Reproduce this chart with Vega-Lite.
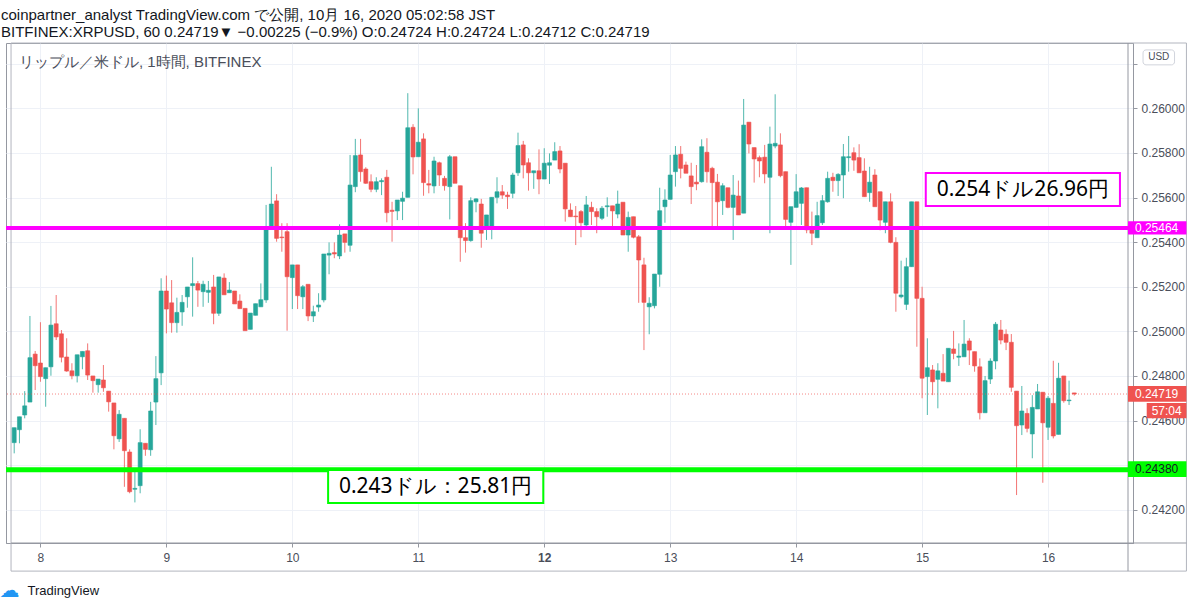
{
  "$schema": "https://vega.github.io/schema/vega-lite/v6.json",
  "width": 1127,
  "height": 500,
  "autosize": "none",
  "padding": {"left": 6, "top": 43, "right": 67, "bottom": 64},
  "background": "white",
  "config": {
    "view": {"stroke": "#9598a1", "strokeWidth": 1},
    "font": "Liberation Sans"
  },
  "title": {
    "text": "coinpartner_analyst TradingView.com で公開, 10月 16, 2020 05:02:58 JST",
    "subtitle": "BITFINEX:XRPUSD, 60 0.24719▼ −0.00225 (−0.9%) O:0.24724 H:0.24724 L:0.24712 C:0.24719",
    "anchor": "start",
    "dx": 2,
    "offset": 3,
    "font": "Liberation Sans",
    "fontSize": 15,
    "fontWeight": "normal",
    "color": "#131722",
    "subtitleFont": "Liberation Sans",
    "subtitleFontSize": 15,
    "subtitleColor": "#131722",
    "subtitlePadding": 2
  },
  "datasets": {
    "candles": [
    {"t":"2020-10-07T19:00Z","o":0.24501,"h":0.24568,"l":0.24453,"c":0.24568},
    {"t":"2020-10-07T20:00Z","o":0.24559,"h":0.24617,"l":0.24498,"c":0.24617},
    {"t":"2020-10-07T21:00Z","o":0.24625,"h":0.24732,"l":0.24610,"c":0.24666},
    {"t":"2020-10-07T22:00Z","o":0.24683,"h":0.25069,"l":0.24683,"c":0.24882},
    {"t":"2020-10-07T23:00Z","o":0.24898,"h":0.24912,"l":0.24737,"c":0.24846},
    {"t":"2020-10-08T00:00Z","o":0.24858,"h":0.25041,"l":0.24774,"c":0.24797},
    {"t":"2020-10-08T01:00Z","o":0.24788,"h":0.24837,"l":0.24662,"c":0.24837},
    {"t":"2020-10-08T02:00Z","o":0.24841,"h":0.25114,"l":0.24801,"c":0.25028},
    {"t":"2020-10-08T03:00Z","o":0.25034,"h":0.25163,"l":0.24961,"c":0.24975},
    {"t":"2020-10-08T04:00Z","o":0.24989,"h":0.25006,"l":0.24861,"c":0.24884},
    {"t":"2020-10-08T05:00Z","o":0.24885,"h":0.24969,"l":0.24819,"c":0.24822},
    {"t":"2020-10-08T06:00Z","o":0.24823,"h":0.24857,"l":0.24785,"c":0.24801},
    {"t":"2020-10-08T07:00Z","o":0.24801,"h":0.24895,"l":0.24771,"c":0.24895},
    {"t":"2020-10-08T08:00Z","o":0.24886,"h":0.24910,"l":0.24830,"c":0.24910},
    {"t":"2020-10-08T09:00Z","o":0.24913,"h":0.24946,"l":0.24782,"c":0.24804},
    {"t":"2020-10-08T10:00Z","o":0.24800,"h":0.24800,"l":0.24725,"c":0.24779},
    {"t":"2020-10-08T11:00Z","o":0.24761,"h":0.24786,"l":0.24725,"c":0.24786},
    {"t":"2020-10-08T12:00Z","o":0.24782,"h":0.24849,"l":0.24729,"c":0.24747},
    {"t":"2020-10-08T13:00Z","o":0.24732,"h":0.24732,"l":0.24640,"c":0.24684},
    {"t":"2020-10-08T14:00Z","o":0.24679,"h":0.24679,"l":0.24471,"c":0.24532},
    {"t":"2020-10-08T15:00Z","o":0.24518,"h":0.24647,"l":0.24504,"c":0.24628},
    {"t":"2020-10-08T16:00Z","o":0.24610,"h":0.24610,"l":0.24303,"c":0.24465},
    {"t":"2020-10-08T17:00Z","o":0.24459,"h":0.24471,"l":0.24274,"c":0.24281},
    {"t":"2020-10-08T18:00Z","o":0.24292,"h":0.24378,"l":0.24233,"c":0.24296},
    {"t":"2020-10-08T19:00Z","o":0.24308,"h":0.24561,"l":0.24274,"c":0.24501},
    {"t":"2020-10-08T20:00Z","o":0.24498,"h":0.24498,"l":0.24442,"c":0.24471},
    {"t":"2020-10-08T21:00Z","o":0.24469,"h":0.24684,"l":0.24442,"c":0.24643},
    {"t":"2020-10-08T22:00Z","o":0.24683,"h":0.24889,"l":0.24580,"c":0.24788},
    {"t":"2020-10-08T23:00Z","o":0.24814,"h":0.25238,"l":0.24759,"c":0.25181},
    {"t":"2020-10-09T00:00Z","o":0.25181,"h":0.25250,"l":0.24991,"c":0.25100},
    {"t":"2020-10-09T01:00Z","o":0.25128,"h":0.25230,"l":0.24994,"c":0.25039},
    {"t":"2020-10-09T02:00Z","o":0.25039,"h":0.25151,"l":0.24994,"c":0.25085},
    {"t":"2020-10-09T03:00Z","o":0.25087,"h":0.25163,"l":0.25025,"c":0.25130},
    {"t":"2020-10-09T04:00Z","o":0.25155,"h":0.25199,"l":0.25106,"c":0.25199},
    {"t":"2020-10-09T05:00Z","o":0.25205,"h":0.25332,"l":0.25066,"c":0.25214},
    {"t":"2020-10-09T06:00Z","o":0.25214,"h":0.25226,"l":0.25110,"c":0.25185},
    {"t":"2020-10-09T07:00Z","o":0.25178,"h":0.25227,"l":0.25110,"c":0.25211},
    {"t":"2020-10-09T08:00Z","o":0.25175,"h":0.25226,"l":0.25128,"c":0.25184},
    {"t":"2020-10-09T09:00Z","o":0.25199,"h":0.25253,"l":0.25032,"c":0.25081},
    {"t":"2020-10-09T10:00Z","o":0.25081,"h":0.25244,"l":0.25069,"c":0.25244},
    {"t":"2020-10-09T11:00Z","o":0.25239,"h":0.25260,"l":0.25164,"c":0.25164},
    {"t":"2020-10-09T12:00Z","o":0.25173,"h":0.25221,"l":0.25173,"c":0.25185},
    {"t":"2020-10-09T13:00Z","o":0.25181,"h":0.25181,"l":0.25123,"c":0.25123},
    {"t":"2020-10-09T14:00Z","o":0.25136,"h":0.25166,"l":0.25102,"c":0.25102},
    {"t":"2020-10-09T15:00Z","o":0.25103,"h":0.25103,"l":0.25003,"c":0.25003},
    {"t":"2020-10-09T16:00Z","o":0.25009,"h":0.25082,"l":0.25009,"c":0.25082},
    {"t":"2020-10-09T17:00Z","o":0.25072,"h":0.25124,"l":0.25072,"c":0.25124},
    {"t":"2020-10-09T18:00Z","o":0.25110,"h":0.25215,"l":0.25110,"c":0.25142},
    {"t":"2020-10-09T19:00Z","o":0.25141,"h":0.25567,"l":0.25128,"c":0.25455},
    {"t":"2020-10-09T20:00Z","o":0.25458,"h":0.25738,"l":0.25455,"c":0.25571},
    {"t":"2020-10-09T21:00Z","o":0.25585,"h":0.25615,"l":0.25402,"c":0.25417},
    {"t":"2020-10-09T22:00Z","o":0.25423,"h":0.25485,"l":0.25357,"c":0.25420},
    {"t":"2020-10-09T23:00Z","o":0.25447,"h":0.25485,"l":0.25003,"c":0.25245},
    {"t":"2020-10-10T00:00Z","o":0.25241,"h":0.25298,"l":0.25100,"c":0.25298},
    {"t":"2020-10-10T01:00Z","o":0.25298,"h":0.25298,"l":0.25100,"c":0.25160},
    {"t":"2020-10-10T02:00Z","o":0.25155,"h":0.25208,"l":0.25100,"c":0.25200},
    {"t":"2020-10-10T03:00Z","o":0.25211,"h":0.25211,"l":0.25046,"c":0.25069},
    {"t":"2020-10-10T04:00Z","o":0.25069,"h":0.25115,"l":0.25042,"c":0.25088},
    {"t":"2020-10-10T05:00Z","o":0.25109,"h":0.25171,"l":0.25088,"c":0.25118},
    {"t":"2020-10-10T06:00Z","o":0.25141,"h":0.25347,"l":0.25130,"c":0.25347},
    {"t":"2020-10-10T07:00Z","o":0.25342,"h":0.25399,"l":0.25256,"c":0.25350},
    {"t":"2020-10-10T08:00Z","o":0.25353,"h":0.25399,"l":0.25328,"c":0.25347},
    {"t":"2020-10-10T09:00Z","o":0.25338,"h":0.25480,"l":0.25324,"c":0.25432},
    {"t":"2020-10-10T10:00Z","o":0.25437,"h":0.25437,"l":0.25353,"c":0.25399},
    {"t":"2020-10-10T11:00Z","o":0.25386,"h":0.25791,"l":0.25357,"c":0.25656},
    {"t":"2020-10-10T12:00Z","o":0.25649,"h":0.25863,"l":0.25624,"c":0.25788},
    {"t":"2020-10-10T13:00Z","o":0.25791,"h":0.25863,"l":0.25671,"c":0.25716},
    {"t":"2020-10-10T14:00Z","o":0.25728,"h":0.25736,"l":0.25661,"c":0.25664},
    {"t":"2020-10-10T15:00Z","o":0.25671,"h":0.25704,"l":0.25624,"c":0.25637},
    {"t":"2020-10-10T16:00Z","o":0.25637,"h":0.25691,"l":0.25624,"c":0.25671},
    {"t":"2020-10-10T17:00Z","o":0.25671,"h":0.25686,"l":0.25611,"c":0.25676},
    {"t":"2020-10-10T18:00Z","o":0.25691,"h":0.25724,"l":0.25489,"c":0.25532},
    {"t":"2020-10-10T19:00Z","o":0.25543,"h":0.25581,"l":0.25402,"c":0.25538},
    {"t":"2020-10-10T20:00Z","o":0.25540,"h":0.25589,"l":0.25499,"c":0.25589},
    {"t":"2020-10-10T21:00Z","o":0.25583,"h":0.25626,"l":0.25499,"c":0.25597},
    {"t":"2020-10-10T22:00Z","o":0.25601,"h":0.26068,"l":0.25601,"c":0.25913},
    {"t":"2020-10-10T23:00Z","o":0.25915,"h":0.25929,"l":0.25704,"c":0.25782},
    {"t":"2020-10-11T00:00Z","o":0.25783,"h":0.26000,"l":0.25783,"c":0.25848},
    {"t":"2020-10-11T01:00Z","o":0.25863,"h":0.25888,"l":0.25608,"c":0.25667},
    {"t":"2020-10-11T02:00Z","o":0.25662,"h":0.25724,"l":0.25619,"c":0.25656},
    {"t":"2020-10-11T03:00Z","o":0.25652,"h":0.25783,"l":0.25619,"c":0.25764},
    {"t":"2020-10-11T04:00Z","o":0.25756,"h":0.25761,"l":0.25652,"c":0.25701},
    {"t":"2020-10-11T05:00Z","o":0.25686,"h":0.25697,"l":0.25631,"c":0.25653},
    {"t":"2020-10-11T06:00Z","o":0.25649,"h":0.25791,"l":0.25502,"c":0.25783},
    {"t":"2020-10-11T07:00Z","o":0.25783,"h":0.25783,"l":0.25664,"c":0.25664},
    {"t":"2020-10-11T08:00Z","o":0.25653,"h":0.25653,"l":0.25312,"c":0.25420},
    {"t":"2020-10-11T09:00Z","o":0.25420,"h":0.25485,"l":0.25353,"c":0.25407},
    {"t":"2020-10-11T10:00Z","o":0.25407,"h":0.25601,"l":0.25402,"c":0.25586},
    {"t":"2020-10-11T11:00Z","o":0.25581,"h":0.25597,"l":0.25534,"c":0.25594},
    {"t":"2020-10-11T12:00Z","o":0.25571,"h":0.25594,"l":0.25375,"c":0.25440},
    {"t":"2020-10-11T13:00Z","o":0.25469,"h":0.25522,"l":0.25410,"c":0.25522},
    {"t":"2020-10-11T14:00Z","o":0.25469,"h":0.25601,"l":0.25413,"c":0.25601},
    {"t":"2020-10-11T15:00Z","o":0.25601,"h":0.25691,"l":0.25574,"c":0.25626},
    {"t":"2020-10-11T16:00Z","o":0.25626,"h":0.25656,"l":0.25594,"c":0.25611},
    {"t":"2020-10-11T17:00Z","o":0.25611,"h":0.25626,"l":0.25549,"c":0.25604},
    {"t":"2020-10-11T18:00Z","o":0.25619,"h":0.25711,"l":0.25597,"c":0.25701},
    {"t":"2020-10-11T19:00Z","o":0.25711,"h":0.25891,"l":0.25697,"c":0.25833},
    {"t":"2020-10-11T20:00Z","o":0.25836,"h":0.25854,"l":0.25686,"c":0.25746},
    {"t":"2020-10-11T21:00Z","o":0.25756,"h":0.25776,"l":0.25631,"c":0.25711},
    {"t":"2020-10-11T22:00Z","o":0.25711,"h":0.25720,"l":0.25639,"c":0.25720},
    {"t":"2020-10-11T23:00Z","o":0.25720,"h":0.25816,"l":0.25615,"c":0.25683},
    {"t":"2020-10-12T00:00Z","o":0.25683,"h":0.25821,"l":0.25683,"c":0.25754},
    {"t":"2020-10-12T01:00Z","o":0.25745,"h":0.25798,"l":0.25661,"c":0.25756},
    {"t":"2020-10-12T02:00Z","o":0.25768,"h":0.25848,"l":0.25768,"c":0.25806},
    {"t":"2020-10-12T03:00Z","o":0.25809,"h":0.25831,"l":0.25709,"c":0.25728},
    {"t":"2020-10-12T04:00Z","o":0.25754,"h":0.25754,"l":0.25492,"c":0.25549},
    {"t":"2020-10-12T05:00Z","o":0.25544,"h":0.25574,"l":0.25514,"c":0.25514},
    {"t":"2020-10-12T06:00Z","o":0.25517,"h":0.25562,"l":0.25387,"c":0.25514},
    {"t":"2020-10-12T07:00Z","o":0.25537,"h":0.25544,"l":0.25422,"c":0.25487},
    {"t":"2020-10-12T08:00Z","o":0.25477,"h":0.25607,"l":0.25472,"c":0.25567},
    {"t":"2020-10-12T09:00Z","o":0.25556,"h":0.25581,"l":0.25477,"c":0.25537},
    {"t":"2020-10-12T10:00Z","o":0.25537,"h":0.25552,"l":0.25440,"c":0.25514},
    {"t":"2020-10-12T11:00Z","o":0.25507,"h":0.25562,"l":0.25499,"c":0.25552},
    {"t":"2020-10-12T12:00Z","o":0.25559,"h":0.25601,"l":0.25514,"c":0.25563},
    {"t":"2020-10-12T13:00Z","o":0.25563,"h":0.25563,"l":0.25472,"c":0.25540},
    {"t":"2020-10-12T14:00Z","o":0.25526,"h":0.25631,"l":0.25507,"c":0.25571},
    {"t":"2020-10-12T15:00Z","o":0.25579,"h":0.25579,"l":0.25432,"c":0.25432},
    {"t":"2020-10-12T16:00Z","o":0.25432,"h":0.25537,"l":0.25357,"c":0.25511},
    {"t":"2020-10-12T17:00Z","o":0.25514,"h":0.25514,"l":0.25417,"c":0.25422},
    {"t":"2020-10-12T18:00Z","o":0.25424,"h":0.25432,"l":0.25128,"c":0.25320},
    {"t":"2020-10-12T19:00Z","o":0.25298,"h":0.25330,"l":0.24916,"c":0.25130},
    {"t":"2020-10-12T20:00Z","o":0.25110,"h":0.25153,"l":0.24987,"c":0.25126},
    {"t":"2020-10-12T21:00Z","o":0.25115,"h":0.25257,"l":0.25103,"c":0.25257},
    {"t":"2020-10-12T22:00Z","o":0.25256,"h":0.25644,"l":0.25200,"c":0.25541},
    {"t":"2020-10-12T23:00Z","o":0.25559,"h":0.25637,"l":0.25487,"c":0.25589},
    {"t":"2020-10-13T00:00Z","o":0.25592,"h":0.25791,"l":0.25592,"c":0.25701},
    {"t":"2020-10-13T01:00Z","o":0.25716,"h":0.25831,"l":0.25649,"c":0.25791},
    {"t":"2020-10-13T02:00Z","o":0.25794,"h":0.25831,"l":0.25686,"c":0.25731},
    {"t":"2020-10-13T03:00Z","o":0.25746,"h":0.25761,"l":0.25709,"c":0.25709},
    {"t":"2020-10-13T04:00Z","o":0.25697,"h":0.25756,"l":0.25571,"c":0.25649},
    {"t":"2020-10-13T05:00Z","o":0.25669,"h":0.25746,"l":0.25633,"c":0.25661},
    {"t":"2020-10-13T06:00Z","o":0.25671,"h":0.25861,"l":0.25667,"c":0.25828},
    {"t":"2020-10-13T07:00Z","o":0.25803,"h":0.25866,"l":0.25667,"c":0.25716},
    {"t":"2020-10-13T08:00Z","o":0.25731,"h":0.25738,"l":0.25469,"c":0.25667},
    {"t":"2020-10-13T09:00Z","o":0.25669,"h":0.25706,"l":0.25464,"c":0.25581},
    {"t":"2020-10-13T10:00Z","o":0.25586,"h":0.25664,"l":0.25522,"c":0.25653},
    {"t":"2020-10-13T11:00Z","o":0.25644,"h":0.25644,"l":0.25552,"c":0.25556},
    {"t":"2020-10-13T12:00Z","o":0.25556,"h":0.25701,"l":0.25410,"c":0.25611},
    {"t":"2020-10-13T13:00Z","o":0.25607,"h":0.25676,"l":0.25522,"c":0.25522},
    {"t":"2020-10-13T14:00Z","o":0.25530,"h":0.26042,"l":0.25530,"c":0.25925},
    {"t":"2020-10-13T15:00Z","o":0.25938,"h":0.25938,"l":0.25798,"c":0.25840},
    {"t":"2020-10-13T16:00Z","o":0.25824,"h":0.25824,"l":0.25667,"c":0.25773},
    {"t":"2020-10-13T17:00Z","o":0.25779,"h":0.25788,"l":0.25691,"c":0.25764},
    {"t":"2020-10-13T18:00Z","o":0.25781,"h":0.25836,"l":0.25664,"c":0.25706},
    {"t":"2020-10-13T19:00Z","o":0.25691,"h":0.25918,"l":0.25440,"c":0.25840},
    {"t":"2020-10-13T20:00Z","o":0.25831,"h":0.26063,"l":0.25821,"c":0.25843},
    {"t":"2020-10-13T21:00Z","o":0.25836,"h":0.25888,"l":0.25691,"c":0.25698},
    {"t":"2020-10-13T22:00Z","o":0.25716,"h":0.25716,"l":0.25469,"c":0.25502},
    {"t":"2020-10-13T23:00Z","o":0.25489,"h":0.25559,"l":0.25298,"c":0.25559},
    {"t":"2020-10-14T00:00Z","o":0.25556,"h":0.25705,"l":0.25556,"c":0.25626},
    {"t":"2020-10-14T01:00Z","o":0.25574,"h":0.25647,"l":0.25477,"c":0.25643},
    {"t":"2020-10-14T02:00Z","o":0.25644,"h":0.25644,"l":0.25440,"c":0.25455},
    {"t":"2020-10-14T03:00Z","o":0.25469,"h":0.25537,"l":0.25387,"c":0.25440},
    {"t":"2020-10-14T04:00Z","o":0.25420,"h":0.25581,"l":0.25420,"c":0.25519},
    {"t":"2020-10-14T05:00Z","o":0.25487,"h":0.25611,"l":0.25477,"c":0.25586},
    {"t":"2020-10-14T06:00Z","o":0.25581,"h":0.25716,"l":0.25577,"c":0.25686},
    {"t":"2020-10-14T07:00Z","o":0.25691,"h":0.25711,"l":0.25626,"c":0.25676},
    {"t":"2020-10-14T08:00Z","o":0.25676,"h":0.25709,"l":0.25607,"c":0.25704},
    {"t":"2020-10-14T09:00Z","o":0.25701,"h":0.25840,"l":0.25597,"c":0.25783},
    {"t":"2020-10-14T10:00Z","o":0.25779,"h":0.25876,"l":0.25716,"c":0.25783},
    {"t":"2020-10-14T11:00Z","o":0.25801,"h":0.25825,"l":0.25720,"c":0.25768},
    {"t":"2020-10-14T12:00Z","o":0.25779,"h":0.25839,"l":0.25711,"c":0.25711},
    {"t":"2020-10-14T13:00Z","o":0.25719,"h":0.25776,"l":0.25604,"c":0.25604},
    {"t":"2020-10-14T14:00Z","o":0.25622,"h":0.25738,"l":0.25581,"c":0.25669},
    {"t":"2020-10-14T15:00Z","o":0.25701,"h":0.25727,"l":0.25559,"c":0.25559},
    {"t":"2020-10-14T16:00Z","o":0.25626,"h":0.25626,"l":0.25453,"c":0.25499},
    {"t":"2020-10-14T17:00Z","o":0.25489,"h":0.25581,"l":0.25440,"c":0.25581},
    {"t":"2020-10-14T18:00Z","o":0.25581,"h":0.25619,"l":0.25395,"c":0.25399},
    {"t":"2020-10-14T19:00Z","o":0.25399,"h":0.25422,"l":0.25088,"c":0.25171},
    {"t":"2020-10-14T20:00Z","o":0.25155,"h":0.25317,"l":0.25148,"c":0.25163},
    {"t":"2020-10-14T21:00Z","o":0.25121,"h":0.25330,"l":0.25096,"c":0.25290},
    {"t":"2020-10-14T22:00Z","o":0.25290,"h":0.25581,"l":0.25290,"c":0.25581},
    {"t":"2020-10-14T23:00Z","o":0.25581,"h":0.25581,"l":0.24931,"c":0.25148},
    {"t":"2020-10-15T00:00Z","o":0.25148,"h":0.25200,"l":0.24700,"c":0.24790},
    {"t":"2020-10-15T01:00Z","o":0.24797,"h":0.24969,"l":0.24625,"c":0.24837},
    {"t":"2020-10-15T02:00Z","o":0.24827,"h":0.24849,"l":0.24714,"c":0.24774},
    {"t":"2020-10-15T03:00Z","o":0.24785,"h":0.24857,"l":0.24655,"c":0.24823},
    {"t":"2020-10-15T04:00Z","o":0.24812,"h":0.24898,"l":0.24777,"c":0.24777},
    {"t":"2020-10-15T05:00Z","o":0.24774,"h":0.24924,"l":0.24774,"c":0.24924},
    {"t":"2020-10-15T06:00Z","o":0.24921,"h":0.25002,"l":0.24875,"c":0.24901},
    {"t":"2020-10-15T07:00Z","o":0.24884,"h":0.24946,"l":0.24845,"c":0.24889},
    {"t":"2020-10-15T08:00Z","o":0.24886,"h":0.25051,"l":0.24886,"c":0.24943},
    {"t":"2020-10-15T09:00Z","o":0.24957,"h":0.24969,"l":0.24849,"c":0.24916},
    {"t":"2020-10-15T10:00Z","o":0.24909,"h":0.24909,"l":0.24819,"c":0.24845},
    {"t":"2020-10-15T11:00Z","o":0.24841,"h":0.24879,"l":0.24605,"c":0.24635},
    {"t":"2020-10-15T12:00Z","o":0.24635,"h":0.24800,"l":0.24635,"c":0.24779},
    {"t":"2020-10-15T13:00Z","o":0.24786,"h":0.24879,"l":0.24764,"c":0.24867},
    {"t":"2020-10-15T14:00Z","o":0.24867,"h":0.25042,"l":0.24830,"c":0.25032},
    {"t":"2020-10-15T15:00Z","o":0.25006,"h":0.25051,"l":0.24942,"c":0.24961},
    {"t":"2020-10-15T16:00Z","o":0.24987,"h":0.25009,"l":0.24916,"c":0.24951},
    {"t":"2020-10-15T17:00Z","o":0.24951,"h":0.24988,"l":0.24729,"c":0.24749},
    {"t":"2020-10-15T18:00Z","o":0.24732,"h":0.24732,"l":0.24266,"c":0.24577},
    {"t":"2020-10-15T19:00Z","o":0.24580,"h":0.24755,"l":0.24535,"c":0.24643},
    {"t":"2020-10-15T20:00Z","o":0.24632,"h":0.24655,"l":0.24547,"c":0.24565},
    {"t":"2020-10-15T21:00Z","o":0.24540,"h":0.24714,"l":0.24431,"c":0.24659},
    {"t":"2020-10-15T22:00Z","o":0.24652,"h":0.24764,"l":0.24652,"c":0.24729},
    {"t":"2020-10-15T23:00Z","o":0.24727,"h":0.24727,"l":0.24321,"c":0.24590},
    {"t":"2020-10-16T00:00Z","o":0.24570,"h":0.24710,"l":0.24513,"c":0.24700},
    {"t":"2020-10-16T01:00Z","o":0.24677,"h":0.24868,"l":0.24520,"c":0.24531},
    {"t":"2020-10-16T02:00Z","o":0.24538,"h":0.24859,"l":0.24538,"c":0.24790},
    {"t":"2020-10-16T03:00Z","o":0.24800,"h":0.24800,"l":0.24680,"c":0.24689},
    {"t":"2020-10-16T04:00Z","o":0.24689,"h":0.24779,"l":0.24670,"c":0.24692},
    {"t":"2020-10-16T05:00Z","o":0.24724,"h":0.24724,"l":0.24712,"c":0.24719}
    ],
    "one": [{}]
  },
  "data": {"name": "one"},
  "layer": [
    {
      "data": {"name": "candles"},
      "mark": {"type": "rule", "strokeWidth": 1, "opacity": 0.8},
      "encoding": {
        "x": {
          "field": "t", "type": "temporal",
          "scale": {"type": "utc", "domain": [{"year": 2020, "month": 10, "date": 7, "hours": 18, "minutes": 23, "seconds": 30, "utc": true}, {"year": 2020, "month": 10, "date": 16, "hours": 15, "minutes": 14, "utc": true}]},
          "axis": {
            "values": [
              {"year": 2020, "month": 10, "date": 8, "utc": true},
              {"year": 2020, "month": 10, "date": 9, "utc": true},
              {"year": 2020, "month": 10, "date": 10, "utc": true},
              {"year": 2020, "month": 10, "date": 11, "utc": true},
              {"year": 2020, "month": 10, "date": 12, "utc": true},
              {"year": 2020, "month": 10, "date": 13, "utc": true},
              {"year": 2020, "month": 10, "date": 14, "utc": true},
              {"year": 2020, "month": 10, "date": 15, "utc": true},
              {"year": 2020, "month": 10, "date": 16, "utc": true}
            ],
            "labelExpr": "utcFormat(datum.value, '%-d')",
            "grid": true,
            "gridColor": "#eef1f7",
            "domainColor": "#9598a1",
            "tickColor": "#9598a1",
            "tickSize": 4,
            "labelColor": "#4a4e5a",
            "labelFontSize": 12,
            "labelFont": "Liberation Sans",
            "labelPadding": 5,
            "labelFontWeight": {"condition": {"test": "utcdate(datum.value) === 12", "value": "bold"}, "value": "normal"},
            "title": "TradingView",
            "titleAnchor": "start",
            "titleAlign": "left",
            "titleBaseline": "middle",
            "titleX": 21,
            "titleY": 47,
            "titleFont": "Liberation Sans",
            "titleFontSize": 13,
            "titleFontWeight": "normal",
            "titleColor": "#131722"
          }
        },
        "y": {
          "field": "l", "type": "quantitative",
          "scale": {"domain": [0.24051, 0.26293], "zero": false, "nice": false},
          "axis": {
            "orient": "right",
            "values": [0.242, 0.244, 0.246, 0.248, 0.25, 0.252, 0.254, 0.256, 0.258, 0.26, 0.262],
            "labelExpr": "datum.value == 0.244 || datum.value == 0.262 ? '' : format(datum.value, '.5f')",
            "grid": true,
            "gridColor": "#eef1f7",
            "domainColor": "#9598a1",
            "tickColor": "#9598a1",
            "tickSize": 4,
            "labelColor": "#4a4e5a",
            "labelFontSize": 12,
            "labelFont": "Liberation Sans",
            "labelPadding": 4,
            "title": "☁",
            "titleAngle": 0,
            "titleX": -1124,
            "titleY": 547,
            "titleAlign": "center",
            "titleBaseline": "middle",
            "titleFontSize": 20,
            "titleFont": "DejaVu Sans",
            "titleFontWeight": "normal",
            "titleColor": "#2196f3"
          }
        },
        "y2": {"field": "h"},
        "color": {"condition": {"test": "datum.c >= datum.o", "value": "#26a69a"}, "value": "#ef5350"}
      }
    },
    {
      "mark": {"type": "rect", "fillOpacity": 0, "stroke": "#b2b5be", "strokeWidth": 1},
      "encoding": {
        "x": {"datum": {"year": 2020, "month": 10, "date": 7, "hours": 18, "minutes": 24, "utc": true}, "type": "temporal"},
        "x2": {"datum": {"year": 2020, "month": 10, "date": 17, "hours": 2, "minutes": 22, "utc": true}},
        "y": {"datum": 0.23925},
        "y2": {"datum": 0.26293}
      }
    },
    {
      "mark": {"type": "rule", "color": "#9598a1", "strokeWidth": 1},
      "encoding": {
        "x": {"datum": {"year": 2020, "month": 10, "date": 7, "hours": 18, "minutes": 24, "utc": true}, "type": "temporal"},
        "x2": {"datum": {"year": 2020, "month": 10, "date": 17, "hours": 2, "minutes": 22, "utc": true}},
        "y": {"datum": 0.24051}
      }
    },
    {
      "mark": {"type": "rule", "color": "#9598a1", "strokeWidth": 1},
      "encoding": {
        "x": {"datum": {"year": 2020, "month": 10, "date": 16, "hours": 15, "minutes": 14, "utc": true}, "type": "temporal"},
        "y": {"datum": 0.23925},
        "y2": {"datum": 0.26293}
      }
    },
    {
      "data": {"name": "candles"},
      "mark": {"type": "bar", "size": 4, "strokeWidth": 0.6},
      "encoding": {
        "x": {"field": "t", "type": "temporal"},
        "y": {"field": "o", "type": "quantitative"},
        "y2": {"field": "c"},
        "color": {"condition": {"test": "datum.c >= datum.o", "value": "#26a69a"}, "value": "#ef5350"},
        "stroke": {"condition": {"test": "datum.c >= datum.o", "value": "#26a69a"}, "value": "#ef5350"}
      }
    },
    {
      "mark": {"type": "rule", "color": "#ef5350", "strokeWidth": 1, "strokeDash": [1, 2], "opacity": 0.7},
      "encoding": {"y": {"datum": 0.24719}}
    },
    {
      "mark": {"type": "rule", "color": "#ff00ff", "strokeWidth": 4},
      "encoding": {"y": {"datum": 0.25464}}
    },
    {
      "mark": {"type": "rule", "color": "#00ff00", "strokeWidth": 5},
      "encoding": {"y": {"datum": 0.2438}}
    },
    {
      "mark": {"type": "rect", "fill": "white", "stroke": "#00ff00", "strokeWidth": 2},
      "encoding": {
        "x": {"datum": {"year": 2020, "month": 10, "date": 10, "hours": 6, "minutes": 49, "utc": true}, "type": "temporal"},
        "x2": {"datum": {"year": 2020, "month": 10, "date": 11, "hours": 23, "minutes": 49, "utc": true}},
        "y": {"datum": 0.2423},
        "y2": {"datum": 0.24378}
      }
    },
    {
      "mark": {"type": "text", "font": "Noto Sans", "fontSize": 21, "fontWeight": "normal", "color": "#000000", "align": "center", "baseline": "middle"},
      "encoding": {
        "x": {"datum": {"year": 2020, "month": 10, "date": 11, "hours": 3, "minutes": 18, "utc": true}, "type": "temporal"},
        "y": {"datum": 0.24302},
        "text": {"value": "0.243ドル：25.81円"}
      }
    },
    {
      "mark": {"type": "rect", "fill": "white", "stroke": "#ff00ff", "strokeWidth": 2},
      "encoding": {
        "x": {"datum": {"year": 2020, "month": 10, "date": 15, "hours": 0, "minutes": 42, "utc": true}, "type": "temporal"},
        "x2": {"datum": {"year": 2020, "month": 10, "date": 16, "hours": 13, "minutes": 42, "utc": true}},
        "y": {"datum": 0.25562},
        "y2": {"datum": 0.2571}
      }
    },
    {
      "mark": {"type": "text", "font": "Noto Sans", "fontSize": 21, "fontWeight": "normal", "color": "#000000", "align": "center", "baseline": "middle"},
      "encoding": {
        "x": {"datum": {"year": 2020, "month": 10, "date": 15, "hours": 19, "minutes": 12, "utc": true}, "type": "temporal"},
        "y": {"datum": 0.25636},
        "text": {"value": "0.254ドル26.96円"}
      }
    },
    {
      "mark": {"type": "text", "font": "Liberation Sans", "fontSize": 15, "fontWeight": "normal", "color": "#4a4e5a", "align": "left", "baseline": "middle"},
      "encoding": {
        "x": {"datum": {"year": 2020, "month": 10, "date": 7, "hours": 19, "minutes": 54, "utc": true}, "type": "temporal"},
        "y": {"datum": 0.26208},
        "text": {"value": "リップル／米ドル, 1時間, BITFINEX"}
      }
    },
    {
      "mark": {"type": "rect", "fill": "white", "stroke": "#d1d4dc", "strokeWidth": 1, "cornerRadius": 3},
      "encoding": {
        "x": {"datum": {"year": 2020, "month": 10, "date": 16, "hours": 18, "minutes": 6, "utc": true}, "type": "temporal"},
        "x2": {"datum": {"year": 2020, "month": 10, "date": 17, "hours": 0, "minutes": 6, "utc": true}},
        "y": {"datum": 0.26195},
        "y2": {"datum": 0.26262}
      }
    },
    {
      "mark": {"type": "text", "fontSize": 10, "color": "#4a4e5a", "align": "center", "baseline": "middle"},
      "encoding": {
        "x": {"datum": {"year": 2020, "month": 10, "date": 16, "hours": 21, "minutes": 6, "utc": true}, "type": "temporal"},
        "y": {"datum": 0.26229},
        "text": {"value": "USD"}
      }
    },
    {
      "mark": {"type": "rect", "fill": "#ff00ff"},
      "encoding": {
        "x": {"datum": {"year": 2020, "month": 10, "date": 16, "hours": 15, "minutes": 14, "utc": true}, "type": "temporal"},
        "x2": {"datum": {"year": 2020, "month": 10, "date": 17, "hours": 2, "minutes": 22, "utc": true}},
        "y": {"datum": 0.25434},
        "y2": {"datum": 0.25494}
      }
    },
    {
      "mark": {"type": "text", "fontSize": 12, "color": "white", "align": "left", "baseline": "middle"},
      "encoding": {
        "x": {"datum": {"year": 2020, "month": 10, "date": 16, "hours": 16, "minutes": 33, "utc": true}, "type": "temporal"},
        "y": {"datum": 0.25464},
        "text": {"value": "0.25464"}
      }
    },
    {
      "mark": {"type": "rect", "fill": "#00ff00"},
      "encoding": {
        "x": {"datum": {"year": 2020, "month": 10, "date": 16, "hours": 15, "minutes": 14, "utc": true}, "type": "temporal"},
        "x2": {"datum": {"year": 2020, "month": 10, "date": 17, "hours": 2, "minutes": 22, "utc": true}},
        "y": {"datum": 0.24347},
        "y2": {"datum": 0.24418}
      }
    },
    {
      "mark": {"type": "text", "fontSize": 12, "color": "#131722", "align": "left", "baseline": "middle"},
      "encoding": {
        "x": {"datum": {"year": 2020, "month": 10, "date": 16, "hours": 16, "minutes": 33, "utc": true}, "type": "temporal"},
        "y": {"datum": 0.24382},
        "text": {"value": "0.24380"}
      }
    },
    {
      "mark": {"type": "rect", "fill": "#ef5350"},
      "encoding": {
        "x": {"datum": {"year": 2020, "month": 10, "date": 16, "hours": 15, "minutes": 14, "utc": true}, "type": "temporal"},
        "x2": {"datum": {"year": 2020, "month": 10, "date": 17, "hours": 2, "minutes": 22, "utc": true}},
        "y": {"datum": 0.24684},
        "y2": {"datum": 0.24755}
      }
    },
    {
      "mark": {"type": "text", "fontSize": 12, "color": "white", "align": "left", "baseline": "middle"},
      "encoding": {
        "x": {"datum": {"year": 2020, "month": 10, "date": 16, "hours": 16, "minutes": 33, "utc": true}, "type": "temporal"},
        "y": {"datum": 0.24719},
        "text": {"value": "0.24719"}
      }
    },
    {
      "mark": {"type": "rect", "fill": "#ef5350"},
      "encoding": {
        "x": {"datum": {"year": 2020, "month": 10, "date": 16, "hours": 18, "minutes": 48, "utc": true}, "type": "temporal"},
        "x2": {"datum": {"year": 2020, "month": 10, "date": 17, "hours": 2, "minutes": 22, "utc": true}},
        "y": {"datum": 0.2461},
        "y2": {"datum": 0.24679}
      }
    },
    {
      "mark": {"type": "text", "fontSize": 12, "color": "white", "align": "center", "baseline": "middle"},
      "encoding": {
        "x": {"datum": {"year": 2020, "month": 10, "date": 16, "hours": 22, "minutes": 36, "utc": true}, "type": "temporal"},
        "y": {"datum": 0.24645},
        "text": {"value": "57:04"}
      }
    }
  ]
}
